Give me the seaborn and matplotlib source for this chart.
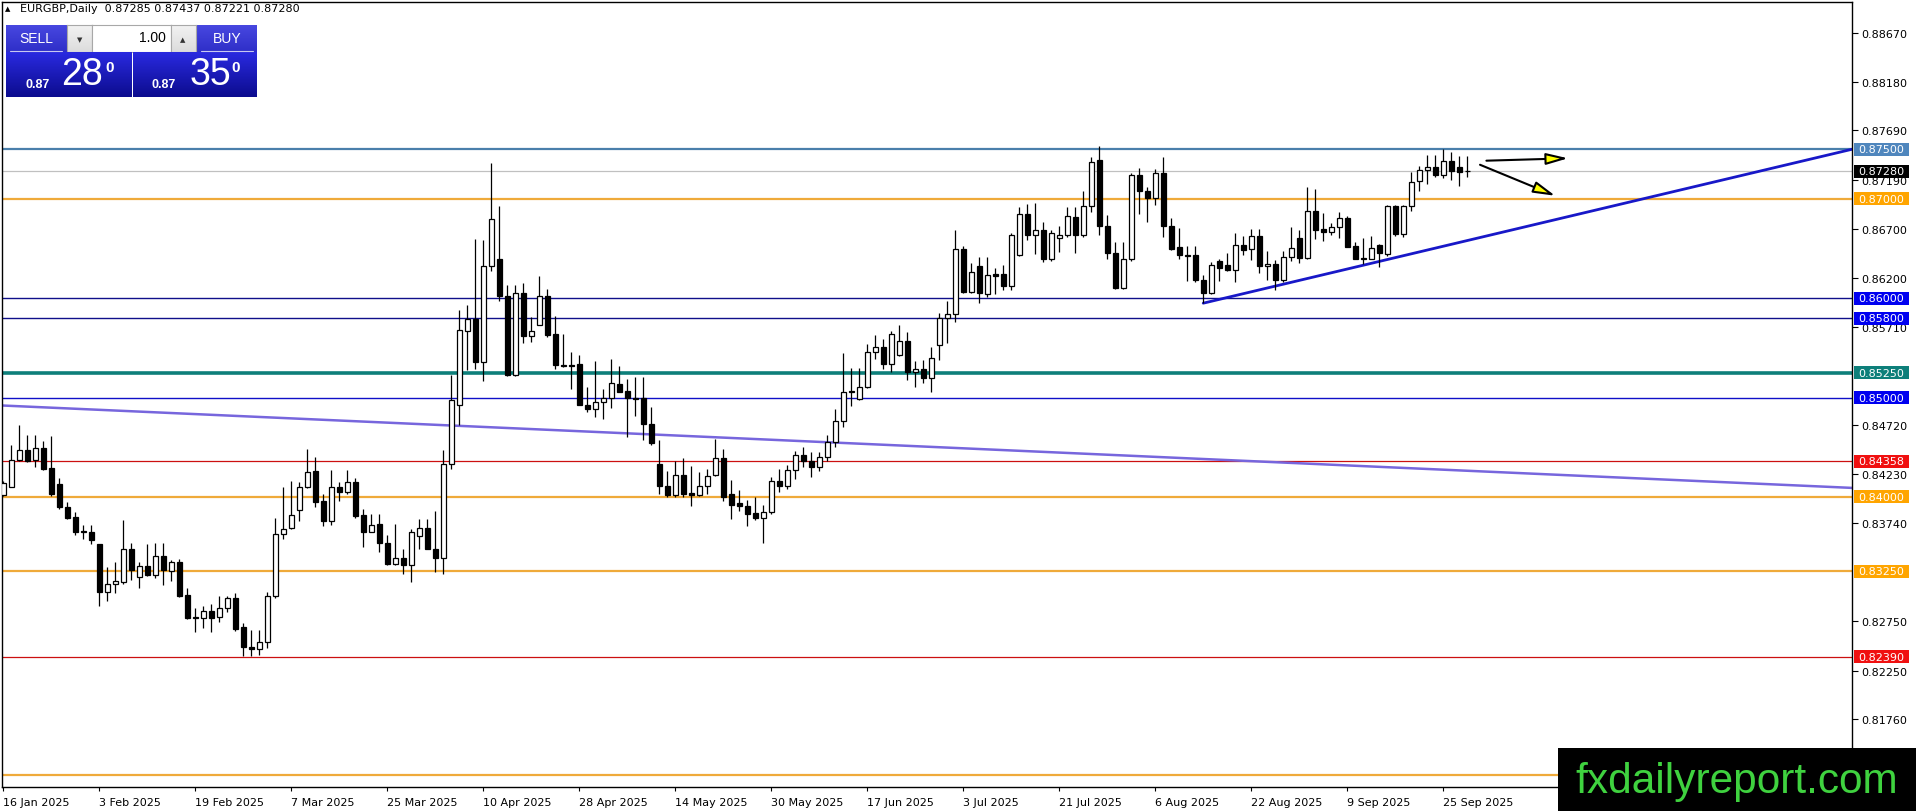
import numpy as np
import pandas as pd
import matplotlib
matplotlib.use("Agg")
import matplotlib.pyplot as plt
import seaborn as sns
from matplotlib.patches import Rectangle
from matplotlib.colors import LinearSegmentedColormap
from matplotlib.transforms import blended_transform_factory

# ---- data ----
opens = [0.8402, 0.8410, 0.8437, 0.8447, 0.8437, 0.8449, 0.8429, 0.8413, 0.8390, 0.8380,
         0.8366, 0.8365, 0.8352, 0.8304, 0.8312, 0.8314, 0.8347, 0.8319, 0.8330, 0.8321,
         0.8340, 0.8325, 0.8334, 0.8301, 0.8279, 0.8278, 0.8285, 0.8279, 0.8288, 0.8298,
         0.8269, 0.8249, 0.8247, 0.8254, 0.8300, 0.8363, 0.8369, 0.8387, 0.8410, 0.8426,
         0.8396, 0.8376, 0.8410, 0.8405, 0.8415, 0.8382, 0.8365, 0.8373, 0.8354, 0.8332,
         0.8338, 0.8331, 0.8361, 0.8369, 0.8347, 0.8338, 0.8433, 0.8492, 0.8567, 0.8579,
         0.8536, 0.8632, 0.8639, 0.8602, 0.8523, 0.8605, 0.8562, 0.8573, 0.8602, 0.8564,
         0.8533, 0.8533, 0.8534, 0.8492, 0.8488, 0.8496, 0.8500, 0.8514, 0.8507, 0.8500,
         0.8500, 0.8473, 0.8433, 0.8411, 0.8402, 0.8422, 0.8404, 0.8402, 0.8411, 0.8422,
         0.8439, 0.8403, 0.8394, 0.8391, 0.8384, 0.8379, 0.8385, 0.8416, 0.8411, 0.8427,
         0.8442, 0.8436, 0.8430, 0.8440, 0.8455, 0.8476, 0.8507, 0.8499, 0.8511, 0.8546,
         0.8551, 0.8534, 0.8543, 0.8557, 0.8526, 0.8529, 0.8520, 0.8553, 0.8580, 0.8584,
         0.8650, 0.8606, 0.8632, 0.8604, 0.8624, 0.8624, 0.8612, 0.8644, 0.8685, 0.8664,
         0.8669, 0.8639, 0.8661, 0.8664, 0.8682, 0.8664, 0.8693, 0.8739, 0.8673, 0.8646,
         0.8610, 0.8639, 0.8724, 0.8708, 0.8701, 0.8726, 0.8673, 0.8652, 0.8644, 0.8644,
         0.8618, 0.8605, 0.8637, 0.8633, 0.8628, 0.8654, 0.8650, 0.8663, 0.8632, 0.8634,
         0.8618, 0.8642, 0.8661, 0.8641, 0.8688, 0.8670, 0.8667, 0.8672, 0.8681, 0.8653,
         0.8641, 0.8640, 0.8654, 0.8645, 0.8693, 0.8665, 0.8693, 0.8718, 0.8729, 0.8732,
         0.8724, 0.8738, 0.8732, 0.87285]
highs = [0.8416, 0.8452, 0.8472, 0.8462, 0.8462, 0.8456, 0.8461, 0.8419, 0.8395, 0.8385,
         0.8372, 0.8372, 0.8352, 0.8329, 0.8334, 0.8377, 0.8354, 0.8334, 0.8352, 0.8354,
         0.8354, 0.8336, 0.8337, 0.8308, 0.8288, 0.8290, 0.8292, 0.8300, 0.8300, 0.8303,
         0.8273, 0.8266, 0.8266, 0.8304, 0.8379, 0.8410, 0.8416, 0.8415, 0.8448, 0.8440,
         0.8403, 0.8427, 0.8415, 0.8427, 0.8419, 0.8388, 0.8383, 0.8383, 0.8362, 0.8373,
         0.8347, 0.8368, 0.8378, 0.8378, 0.8386, 0.8447, 0.8523, 0.8588, 0.8593, 0.8660,
         0.8659, 0.8736, 0.8693, 0.8613, 0.8613, 0.8615, 0.8581, 0.8622, 0.8609, 0.8582,
         0.8564, 0.8546, 0.8543, 0.8511, 0.8537, 0.8509, 0.8539, 0.8532, 0.8519, 0.8521,
         0.8521, 0.8490, 0.8457, 0.8426, 0.8436, 0.8439, 0.8431, 0.8425, 0.8428, 0.8458,
         0.8448, 0.8417, 0.8407, 0.8397, 0.8400, 0.8392, 0.8420, 0.8428, 0.8432, 0.8446,
         0.8450, 0.8445, 0.8445, 0.8462, 0.8488, 0.8545, 0.8530, 0.8530, 0.8554, 0.8563,
         0.8559, 0.8567, 0.8573, 0.8566, 0.8537, 0.8538, 0.8551, 0.8585, 0.8597, 0.8669,
         0.8653, 0.8635, 0.8642, 0.8642, 0.8630, 0.8633, 0.8666, 0.8692, 0.8695, 0.8696,
         0.8677, 0.8669, 0.8673, 0.8692, 0.8692, 0.8708, 0.8742, 0.8753, 0.8684, 0.8657,
         0.8657, 0.8726, 0.8731, 0.8712, 0.8730, 0.8742, 0.8681, 0.8671, 0.8653, 0.8653,
         0.8623, 0.8636, 0.8640, 0.8646, 0.8666, 0.8663, 0.8670, 0.8670, 0.8648, 0.8638,
         0.8648, 0.8672, 0.8669, 0.8712, 0.8710, 0.8686, 0.8676, 0.8687, 0.8683, 0.8657,
         0.8661, 0.8663, 0.8655, 0.8694, 0.8694, 0.8694, 0.8727, 0.8733, 0.8744, 0.8744,
         0.8750, 0.8747, 0.8743, 0.87437]
lows = [0.8401, 0.8410, 0.8436, 0.8435, 0.8430, 0.8427, 0.8401, 0.8388, 0.8378, 0.8362,
        0.8358, 0.8353, 0.8290, 0.8295, 0.8303, 0.8312, 0.8316, 0.8308, 0.8320, 0.8318,
        0.8311, 0.8315, 0.8299, 0.8277, 0.8264, 0.8268, 0.8264, 0.8274, 0.8284, 0.8265,
        0.8240, 0.8240, 0.8241, 0.8248, 0.8298, 0.8358, 0.8368, 0.8376, 0.8409, 0.8390,
        0.8371, 0.8372, 0.8396, 0.8403, 0.8379, 0.8349, 0.8365, 0.8344, 0.8331, 0.8331,
        0.8322, 0.8314, 0.8347, 0.8347, 0.8324, 0.8322, 0.8428, 0.8472, 0.8528, 0.8529,
        0.8517, 0.8627, 0.8597, 0.8522, 0.8522, 0.8555, 0.8556, 0.8573, 0.8561, 0.8529,
        0.8531, 0.8509, 0.8492, 0.8485, 0.8480, 0.8478, 0.8489, 0.8506, 0.8460, 0.8481,
        0.8457, 0.8452, 0.8403, 0.8400, 0.8400, 0.8400, 0.8391, 0.8401, 0.8403, 0.8421,
        0.8396, 0.8378, 0.8386, 0.8371, 0.8377, 0.8354, 0.8383, 0.8405, 0.8408, 0.8418,
        0.8430, 0.8420, 0.8426, 0.8436, 0.8450, 0.8470, 0.8491, 0.8498, 0.8510, 0.8539,
        0.8529, 0.8526, 0.8542, 0.8518, 0.8511, 0.8515, 0.8506, 0.8538, 0.8555, 0.8576,
        0.8605, 0.8605, 0.8595, 0.8601, 0.8604, 0.8608, 0.8608, 0.8643, 0.8659, 0.8645,
        0.8636, 0.8637, 0.8647, 0.8662, 0.8646, 0.8662, 0.8687, 0.8664, 0.8640, 0.8609,
        0.8609, 0.8637, 0.8685, 0.8677, 0.8694, 0.8662, 0.8649, 0.8640, 0.8617, 0.8616,
        0.8595, 0.8604, 0.8617, 0.8627, 0.8616, 0.8644, 0.8638, 0.8625, 0.8618, 0.8608,
        0.8616, 0.8637, 0.8635, 0.8640, 0.8660, 0.8658, 0.8664, 0.8661, 0.8652, 0.8640,
        0.8634, 0.8639, 0.8631, 0.8643, 0.8663, 0.8662, 0.8688, 0.8708, 0.8715, 0.8722,
        0.8721, 0.8719, 0.8713, 0.87221]
closes = [0.8414, 0.8437, 0.8447, 0.8436, 0.8449, 0.8428, 0.8403, 0.8390, 0.8379, 0.8365,
          0.8365, 0.8357, 0.8304, 0.8312, 0.8315, 0.8347, 0.8326, 0.8330, 0.8321, 0.8340,
          0.8326, 0.8334, 0.8300, 0.8278, 0.8278, 0.8285, 0.8278, 0.8288, 0.8298, 0.8267,
          0.8249, 0.8247, 0.8254, 0.8300, 0.8363, 0.8368, 0.8382, 0.8410, 0.8425, 0.8395,
          0.8376, 0.8410, 0.8405, 0.8415, 0.8381, 0.8365, 0.8372, 0.8354, 0.8332, 0.8338,
          0.8331, 0.8365, 0.8369, 0.8347, 0.8338, 0.8433, 0.8498, 0.8568, 0.8579, 0.8536,
          0.8632, 0.8680, 0.8602, 0.8523, 0.8605, 0.8562, 0.8567, 0.8602, 0.8563, 0.8533,
          0.8532, 0.8532, 0.8492, 0.8488, 0.8496, 0.8500, 0.8515, 0.8506, 0.8500, 0.8499,
          0.8473, 0.8454, 0.8411, 0.8402, 0.8422, 0.8403, 0.8402, 0.8411, 0.8421, 0.8439,
          0.8400, 0.8392, 0.8391, 0.8383, 0.8379, 0.8385, 0.8416, 0.8411, 0.8427, 0.8442,
          0.8436, 0.8430, 0.8440, 0.8455, 0.8476, 0.8506, 0.8506, 0.8511, 0.8546, 0.8551,
          0.8534, 0.8564, 0.8557, 0.8526, 0.8529, 0.8520, 0.8540, 0.8580, 0.8584, 0.8650,
          0.8606, 0.8626, 0.8605, 0.8623, 0.8622, 0.8612, 0.8664, 0.8685, 0.8664, 0.8669,
          0.8639, 0.8666, 0.8664, 0.8683, 0.8664, 0.8693, 0.8737, 0.8673, 0.8646, 0.8610,
          0.8639, 0.8724, 0.8708, 0.8701, 0.8726, 0.8673, 0.8650, 0.8644, 0.8643, 0.8618,
          0.8605, 0.8633, 0.8630, 0.8628, 0.8654, 0.8649, 0.8663, 0.8632, 0.8634, 0.8618,
          0.8642, 0.8651, 0.8641, 0.8688, 0.8669, 0.8667, 0.8672, 0.8681, 0.8652, 0.8640,
          0.8640, 0.8651, 0.8646, 0.8693, 0.8665, 0.8693, 0.8717, 0.8729, 0.8732, 0.8724,
          0.8738, 0.8728, 0.8727, 0.87280]

date_ticks = [0, 12, 24, 36, 48, 60, 72, 84, 96, 108, 120, 132, 144, 156, 168, 180]
date_labels = ["16 Jan 2025", "3 Feb 2025", "19 Feb 2025", "7 Mar 2025", "25 Mar 2025",
               "10 Apr 2025", "28 Apr 2025", "14 May 2025", "30 May 2025", "17 Jun 2025",
               "3 Jul 2025", "21 Jul 2025", "6 Aug 2025", "22 Aug 2025", "9 Sep 2025",
               "25 Sep 2025"]
# scale labels that are not hidden behind the level tags / watermark
price_ticks = [0.88670, 0.88180, 0.87690, 0.87190, 0.86700, 0.86200, 0.85710,
               0.84720, 0.84230, 0.83740, 0.82750, 0.82250, 0.81760]

levels = [0.87500, 0.87000, 0.86000, 0.85800, 0.85250, 0.85000, 0.84358, 0.84000,
          0.83250, 0.82390, 0.81200]
current_price = 0.87280

# trend lines (bar index, price) and the two arrows
slope_line_x = [-0.2, 231.1]
slope_line_y = [0.8492, 0.8409]
support_x = [150, 231.1]
support_y = [0.8595, 0.8750]
arrows = [((185.4, 0.87385), (195.6, 0.87409)),
          ((184.6, 0.87344), (194.0, 0.87032))]

# ---- styles ----
level_style = {  # line colour, line width, label colour
    0.87500: ("#4a7fab", 1.6, "#4f86bd"),
    0.87000: ("#efaa3a", 1.6, "#ffa500"),
    0.86000: ("#10108a", 1.0, "#0000f0"),
    0.85800: ("#10108a", 1.0, "#0000f0"),
    0.85250: ("#0d7f7a", 2.6, "#0d7f7a"),
    0.85000: ("#1010c8", 1.0, "#0000f0"),
    0.84358: ("#cc1010", 0.9, "#f01010"),
    0.84000: ("#efaa3a", 1.6, "#ffa500"),
    0.83250: ("#efaa3a", 1.6, "#ffa500"),
    0.82390: ("#cc1010", 0.9, "#f01010"),
    0.81200: ("#efaa3a", 1.6, None),
}

W, H = 1916, 812
sns.set_theme(style="white")
plt.rcParams["font.family"] = ["DejaVu Sans"]

df = pd.DataFrame({"open": opens, "high": highs, "low": lows, "close": closes})
df["bar"] = np.arange(len(df))
up = df["close"] >= df["open"]

fig = plt.figure(figsize=(W / 100, H / 100), dpi=100)
fig.patch.set_facecolor("white")
ax = fig.add_axes([2 / W, 1 - 788 / H, 1850 / W, 785 / H])
ax.set_facecolor("white")
ax.set_xlim(-0.16, 231.1)
ax.set_ylim(0.81078, 0.88983)

# horizontal levels
for lv in levels:
    col, lw, _ = level_style[lv]
    ax.axhline(lv, color=col, lw=lw, zorder=1)
ax.axhline(current_price, color="#c0c0c0", lw=0.9, zorder=1)

# trend lines
sns.lineplot(x=slope_line_x, y=slope_line_y, ax=ax, color="#7766dd", lw=1.8, zorder=2)
sns.lineplot(x=support_x, y=support_y, ax=ax, color="#1818c8", lw=2.0, zorder=2)

# candles
ax.vlines(df["bar"], df["low"], df["high"], color="black", lw=0.9, zorder=3)
ax.bar(df["bar"][up], (df["close"] - df["open"])[up], bottom=df["open"][up], width=0.6,
       facecolor="white", edgecolor="black", linewidth=0.9, zorder=4)
ax.bar(df["bar"][~up], (df["close"] - df["open"])[~up], bottom=df["open"][~up], width=0.6,
       facecolor="black", edgecolor="black", linewidth=0.9, zorder=4)

# arrows
for (x0, y0), (x1, y1) in arrows:
    ax.annotate("", xy=(x1, y1), xytext=(x0, y0),
                arrowprops=dict(arrowstyle="-|>,head_length=0.95,head_width=0.25",
                                mutation_scale=14, fc="#ffff00", ec="black", lw=1.5,
                                shrinkA=0, shrinkB=0), zorder=5)

# axes, ticks
for s in ax.spines.values():
    s.set_color("black")
    s.set_linewidth(1.0)
ax.yaxis.tick_right()
ax.set_yticks(price_ticks)
ax.set_yticklabels([f"{t:.5f}" for t in price_ticks])
ax.tick_params(axis="y", right=True, left=False, length=4, width=0.8, pad=3,
               labelsize=8, colors="black", direction="out")
ax.set_xticks(date_ticks)
ax.set_xticklabels(date_labels, ha="left")
ax.tick_params(axis="x", bottom=True, length=3, width=0.8, pad=4, labelsize=8,
               colors="black", direction="out")
ax.grid(False)

# price labels on the right scale
tr = blended_transform_factory(ax.transAxes, ax.transData)
h_px = 13 * (0.88983 - 0.81078) / 785
bx0, bw, tx = (1854 - 2) / 1850, 55 / 1850, (1858 - 2) / 1850
label_items = [(lv, level_style[lv][2], "white") for lv in levels if level_style[lv][2]]
label_items.append((current_price, "black", "white"))
for p, bg, fg in label_items:
    ax.add_patch(Rectangle((bx0, p - h_px / 2), bw, h_px, transform=tr, facecolor=bg,
                           edgecolor="none", clip_on=False, zorder=6))
    ax.text(tx, p, f"{p:.5f}", transform=tr, color=fg, fontsize=8, va="center",
            ha="left", clip_on=False, zorder=7)


def ftext(x, y, s, **kw):
    fig.text(x / W, 1 - y / H, s, **kw)


def box(x0, y0, x1, y1, top, bottom, edge=None):
    a = fig.add_axes([x0 / W, 1 - y1 / H, (x1 - x0) / W, (y1 - y0) / H])
    cmap = LinearSegmentedColormap.from_list("g", [top, bottom])
    a.imshow(np.linspace(0, 1, 64).reshape(-1, 1), aspect="auto", cmap=cmap,
             extent=[0, 1, 0, 1])
    a.set_xticks([])
    a.set_yticks([])
    for s in a.spines.values():
        s.set_visible(edge is not None)
        if edge:
            s.set_color(edge)
            s.set_linewidth(0.8)
    return a


# header line
ftext(5, 9, "\u25b2", fontsize=5, va="center", ha="left", color="black")
ftext(20, 9, "EURGBP,Daily  0.87285 0.87437 0.87221 0.87280", fontsize=8,
      va="center", ha="left", color="black")

# one-click trading panel
box(6, 26, 67, 53, "#4848e0", "#2e2ec8")
box(197, 26, 257, 53, "#4848e0", "#2e2ec8")
box(67, 26, 92, 53, "#f2f2f2", "#dcdcdc", edge="#a8a8a8")
box(92, 26, 171, 53, "#ffffff", "#ffffff", edge="#a8a8a8")
box(171, 26, 196, 53, "#f2f2f2", "#dcdcdc", edge="#a8a8a8")
box(6, 53, 131, 98, "#2a2ae0", "#0c0c8e")
box(133, 53, 257, 98, "#2a2ae0", "#0c0c8e")
fig.add_artist(plt.Line2D([10 / W, 62 / W], [1 - 52 / H, 1 - 52 / H], color="#c8c8f0", lw=0.8))
fig.add_artist(plt.Line2D([201 / W, 253 / W], [1 - 52 / H, 1 - 52 / H], color="#c8c8f0", lw=0.8))

pfont = ["Liberation Sans", "DejaVu Sans"]
ftext(36, 39, "SELL", fontsize=10, color="white", ha="center", va="center", family=pfont)
ftext(227, 39, "BUY", fontsize=10, color="white", ha="center", va="center", family=pfont)
ftext(166, 38, "1.00", fontsize=10, color="black", ha="right", va="center", family=pfont)
ftext(80, 40, "\u25bc", fontsize=5, color="#333333", ha="center", va="center")
ftext(183, 40, "\u25b2", fontsize=5, color="#333333", ha="center", va="center")
ftext(25, 85, "0.87", fontsize=9, color="white", fontweight="bold", ha="left",
      va="center", family=pfont)
ftext(152, 85, "0.87", fontsize=9, color="white", fontweight="bold", ha="left",
      va="center", family=pfont)
ftext(82, 75, "28", fontsize=27, color="white", ha="center", va="center", family=pfont)
ftext(210, 75, "35", fontsize=27, color="white", ha="center", va="center", family=pfont)
ftext(110, 68, "0", fontsize=11, color="white", fontweight="bold", ha="center",
      va="center", family=pfont)
ftext(236, 68, "0", fontsize=11, color="white", fontweight="bold", ha="center",
      va="center", family=pfont)

# watermark
wm = fig.add_axes([1558 / W, 0, (W - 1558) / W, 63 / H])
wm.set_facecolor("black")
wm.set_xticks([])
wm.set_yticks([])
for s in wm.spines.values():
    s.set_visible(False)
wm.text(0.5, 0.47, "fxdailyreport.com", transform=wm.transAxes, color="#3fd23f",
        fontsize=30.5, ha="center", va="center", family=pfont)

fig.savefig("out.png", dpi=100, facecolor="white")
